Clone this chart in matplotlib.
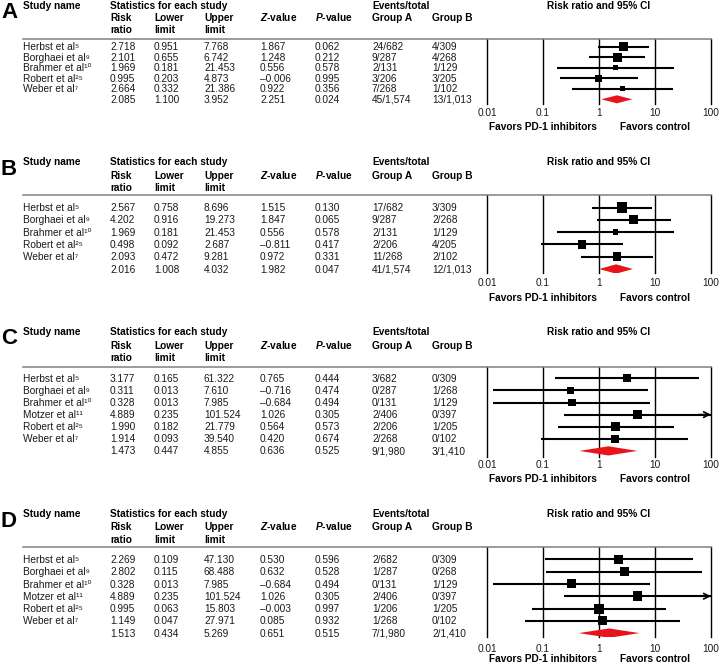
import numpy as np
import matplotlib.pyplot as plt
from matplotlib import transforms
from matplotlib.ticker import NullLocator

plt.rcParams['font.family'] = ['Liberation Sans', 'DejaVu Sans']
plt.rcParams['mathtext.fontset'] = 'custom'
plt.rcParams['mathtext.it'] = 'Liberation Sans:italic:bold'
plt.rcParams['mathtext.rm'] = 'Liberation Sans'

# ---- data ----
names_5 = ["Herbst et al\u2075", "Borghaei et al\u2079", "Brahmer et al\u00b9\u2070",
           "Robert et al\u00b2\u2075", "Weber et al\u2077"]
names_6 = ["Herbst et al\u2075", "Borghaei et al\u2079", "Brahmer et al\u00b9\u2070",
           "Motzer et al\u00b9\u00b9", "Robert et al\u00b2\u2075", "Weber et al\u2077"]

rr_A = [2.718, 2.101, 1.969, 0.995, 2.664]
lo_A = [0.951, 0.655, 0.181, 0.203, 0.332]
hi_A = [7.768, 6.742, 21.453, 4.873, 21.386]
z_A = [1.867, 1.248, 0.556, -0.006, 0.922]
p_A = [0.062, 0.212, 0.578, 0.995, 0.356]
evA_A = ["24/682", "9/287", "2/131", "3/206", "7/268"]
evB_A = ["4/309", "4/268", "1/129", "3/205", "1/102"]
w_A = [32.4, 30.5, 8.3, 18.4, 10.5]
sum_A = [2.085, 1.100, 3.952, 2.251, 0.024]
sum_ev_A = ["45/1,574", "13/1,013"]

rr_B = [2.567, 4.202, 1.969, 0.498, 2.093]
lo_B = [0.758, 0.916, 0.181, 0.092, 0.472]
hi_B = [8.696, 19.273, 21.453, 2.687, 9.281]
z_B = [1.515, 1.847, 0.556, -0.811, 0.972]
p_B = [0.130, 0.065, 0.578, 0.417, 0.331]
evA_B = ["17/682", "9/287", "2/131", "2/206", "11/268"]
evB_B = ["3/309", "2/268", "1/129", "4/205", "2/102"]
w_B = [31.0, 22.0, 7.6, 18.7, 20.6]
sum_B = [2.016, 1.008, 4.032, 1.982, 0.047]
sum_ev_B = ["41/1,574", "12/1,013"]

rr_C = [3.177, 0.311, 0.328, 4.889, 1.990, 1.914]
lo_C = [0.165, 0.013, 0.013, 0.235, 0.182, 0.093]
hi_C = [61.322, 7.610, 7.985, 101.524, 21.779, 39.540]
z_C = [0.765, -0.716, -0.684, 1.026, 0.564, 0.420]
p_C = [0.444, 0.474, 0.494, 0.305, 0.573, 0.674]
evA_C = ["3/682", "0/287", "0/131", "2/406", "2/206", "2/268"]
evB_C = ["0/309", "1/268", "1/129", "0/397", "1/205", "0/102"]
w_C = [17.2, 14.8, 13.3, 17.2, 21.5, 16.0]
sum_C = [1.473, 0.447, 4.855, 0.636, 0.525]
sum_ev_C = ["9/1,980", "3/1,410"]

rr_D = [2.269, 2.802, 0.328, 4.889, 0.995, 1.149]
lo_D = [0.109, 0.115, 0.013, 0.235, 0.063, 0.047]
hi_D = [47.130, 68.488, 7.985, 101.524, 15.803, 27.971]
z_D = [0.530, 0.632, -0.684, 1.026, -0.003, 0.085]
p_D = [0.596, 0.528, 0.494, 0.305, 0.997, 0.932]
evA_D = ["2/682", "1/287", "0/131", "2/406", "1/206", "1/268"]
evB_D = ["0/309", "0/268", "1/129", "0/397", "1/205", "0/102"]
w_D = [15.8, 15.8, 15.8, 18.3, 19.5, 14.8]
sum_D = [1.513, 0.434, 5.269, 0.651, 0.515]
sum_ev_D = ["7/1,980", "2/1,410"]

ticks = [0.01, 0.1, 1, 10, 100]
tick_labels = ["0.01", "0.1", "1", "10", "100"]

W, H = 720, 664
fig = plt.figure(figsize=(W / 100, H / 100), dpi=100)
pix = transforms.Affine2D().scale(1 / W, -1 / H).translate(0, 1) + fig.transFigure

# column x positions (pixels)
col_x = [23, 110, 154, 204, 260, 315, 372, 432]
txt_col = "#1a1a1a"
fs = 7.3
half_cap = 3.6  # px from text middle down to baseline


def fmt(v):
    return ("%.3f" % v).replace("-", "\u2013")


def low(tr):
    # shift so that a baseline-aligned text is centred on y
    return tr + transforms.ScaledTranslation(0, -half_cap / 100, fig.dpi_scale_trans)


def panel(letter, names, rr, lo, hi, z, p, eva, evb, w, summ, sev, lay):
    head, sub1, sub2, top, r0, dy, bot, tick_y, fav_y, sq = lay
    n = len(names)
    ax = fig.add_axes([487 / W, 1 - bot / H, (711 - 487) / W, (bot - top) / H])
    ax.set_xscale("log")
    ax.set_xlim(0.01, 100)
    ax.set_ylim((bot - r0) / dy, (top - r0) / dy)
    for s in ax.spines.values():
        s.set_visible(False)
    ax.set_yticks([])
    ax.xaxis.set_minor_locator(NullLocator())
    ax.set_xticks(ticks)
    ax.set_xticklabels(tick_labels, fontsize=fs, color=txt_col)
    ax.tick_params(axis="x", length=0, pad=(tick_y - bot - 4) * 0.72)
    for t in ticks:
        ax.axvline(t, color="black", lw=1.0, zorder=1, clip_on=False)

    rows = np.arange(n)
    hi_cl = np.minimum(hi, 100)
    ax.hlines(rows, lo, hi_cl, color="black", lw=1.5, zorder=2)
    for i in range(n):
        if hi[i] > 100:
            ax.annotate("", xy=(100, i), xytext=(60, i),
                        arrowprops=dict(arrowstyle="->", lw=1.2, color="black",
                                        shrinkA=0, shrinkB=0))
    side = sq * np.sqrt(np.array(w) / max(w)) * 0.72
    ax.scatter(rr, rows, marker="s", s=side ** 2, color="black", zorder=3, linewidths=0)
    ax.fill([summ[1], summ[0], summ[2], summ[0]], [n, n - 0.38, n, n + 0.38],
            color="#e8141c", zorder=3, lw=0)

    # rule across table and forest
    bl = transforms.blended_transform_factory(pix, ax.transAxes)
    ax.plot([23, 711], [1, 1], transform=bl, color="#808080", lw=1.1, clip_on=False)

    # headers
    fig.text(1 / W, 1 - (head + 13.5) / H, letter, fontsize=16, fontweight="bold",
             va="baseline", ha="left")
    hdr = dict(transform=low(pix), fontsize=fs, fontweight="bold", va="baseline", ha="left")
    fig.text(col_x[0], head, "Study name", **hdr)
    fig.text(col_x[1], head, "Statistics for each study", **hdr)
    fig.text(col_x[6], head, "Events/total", **hdr)
    tb = transforms.blended_transform_factory(ax.transData, pix)
    ax.text(1, head, "Risk ratio and 95% CI", transform=low(tb), fontsize=fs,
            fontweight="bold", va="baseline", ha="center")
    fig.text(col_x[1], sub1, "Risk", **hdr)
    fig.text(col_x[1], sub2, "ratio", **hdr)
    fig.text(col_x[2], sub1, "Lower", **hdr)
    fig.text(col_x[2], sub2, "limit", **hdr)
    fig.text(col_x[3], sub1, "Upper", **hdr)
    fig.text(col_x[3], sub2, "limit", **hdr)
    fig.text(col_x[4], sub1, r"$\mathit{Z}$-value", **hdr)
    fig.text(col_x[5], sub1, r"$\mathit{P}$-value", **hdr)
    fig.text(col_x[6], sub1, "Group A", **hdr)
    fig.text(col_x[7], sub1, "Group B", **hdr)

    # table body, rows share y with the forest axes
    rt = low(transforms.blended_transform_factory(pix, ax.transData))
    body = dict(transform=rt, fontsize=fs, color=txt_col, va="baseline", ha="left")
    for i in range(n):
        vals = [names[i], fmt(rr[i]), fmt(lo[i]), fmt(hi[i]), fmt(z[i]), fmt(p[i]), eva[i], evb[i]]
        for x, v in zip(col_x, vals):
            ax.text(x, i, v, **body)
    svals = [fmt(v) for v in summ] + list(sev)
    for x, v in zip(col_x[1:], svals):
        ax.text(x, n, v, **body)

    fb = dict(transform=low(tb), fontsize=fs, fontweight="bold", va="baseline", ha="center")
    ax.text(0.1, fav_y, "Favors PD-1 inhibitors", **fb)
    ax.text(10, fav_y, "Favors control", **fb)


# layout per panel: header, sub1, sub2, rule, first row, row step, box bottom, tick y, favors y, square px
panel("A", names_5, rr_A, lo_A, hi_A, z_A, p_A, evA_A, evB_A, w_A, sum_A, sum_ev_A,
      (5, 17.5, 29.5, 38.5, 46.8, 10.5, 104, 112.5, 126, 9.3))
panel("B", names_5, rr_B, lo_B, hi_B, z_B, p_B, evA_B, evB_B, w_B, sum_B, sum_ev_B,
      (161, 175, 187, 194.5, 207.5, 12.3, 273, 282, 297, 10.7))
panel("C", names_6, rr_C, lo_C, hi_C, z_C, p_C, evA_C, evB_C, w_C, sum_C, sum_ev_C,
      (331, 345.5, 357.5, 366.7, 378.3, 12.1, 457, 463.5, 478.3, 9.3))
panel("D", names_6, rr_D, lo_D, hi_D, z_D, p_D, evA_D, evB_D, w_D, sum_D, sum_ev_D,
      (513.3, 526.7, 539.3, 546.7, 559.3, 12.3, 637, 647.5, 658.5, 10))

fig.savefig("out.png", dpi=100)
